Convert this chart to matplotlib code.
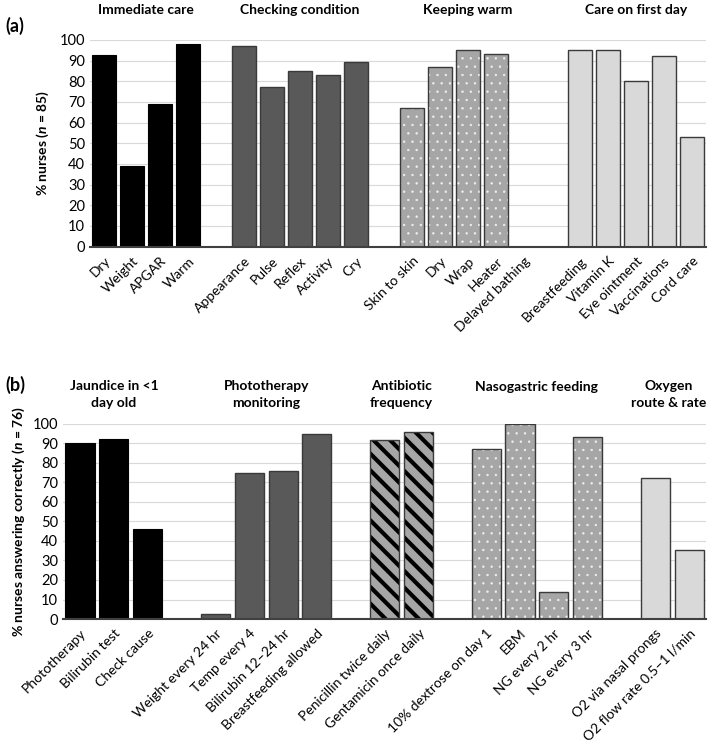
import matplotlib
matplotlib.use("Agg")
import matplotlib.pyplot as plt

plt.rcParams['font.family'] = ['Lato', 'DejaVu Sans']
plt.rcParams['mathtext.fontset'] = 'custom'
plt.rcParams['mathtext.it'] = 'Lato:italic:bold'
plt.rcParams['mathtext.rm'] = 'Lato:bold'
plt.rcParams['hatch.linewidth'] = 0.5

# ---- panel (a) data ----
a_titles = ['Immediate care', 'Checking condition', 'Keeping warm', 'Care on first day']
a_labels = [
    ['Dry', 'Weight', 'APGAR', 'Warm'],
    ['Appearance', 'Pulse', 'Reflex', 'Activity', 'Cry'],
    ['Skin to skin', 'Dry', 'Wrap', 'Heater', 'Delayed bathing'],
    ['Breastfeeding', 'Vitamin K', 'Eye ointment', 'Vaccinations', 'Cord care'],
]
a_values = [
    [92.5, 39, 69, 98],
    [97, 77, 85, 83, 89.5],
    [67, 87, 95, 93, 0],
    [95, 95, 80, 92, 53],
]
a_styles = ['black', 'dark', 'dots', 'light']

# ---- panel (b) data ----
b_titles = ['Jaundice in <1\nday old', 'Phototherapy\nmonitoring', 'Antibiotic\nfrequency',
            'Nasogastric feeding', 'Oxygen\nroute & rate']
b_labels = [
    ['Phototherapy', 'Bilirubin test', 'Check cause'],
    ['Weight every 24 hr', 'Temp every 4', 'Bilirubin 12\u201324 hr', 'Breastfeeding allowed'],
    ['Penicillin twice daily', 'Gentamicin once daily'],
    ['10% dextrose on day 1', 'EBM', 'NG every 2 hr', 'NG every 3 hr'],
    ['O2 via nasal prongs', 'O2 flow rate 0.5\u20131 l/min'],
]
b_values = [
    [90, 92, 46],
    [2.6, 75, 76, 95],
    [91.5, 96],
    [87, 100, 14, 93],
    [72, 35.5],
]
b_styles = ['black', 'dark', 'stripes', 'dots', 'light']

EDGE = '#3a3a3a'


def draw_bars(ax, x, h, style, w):
    if style == 'black':
        ax.bar(x, h, w, color='black', edgecolor='black', lw=0.8, zorder=3)
    elif style == 'dark':
        ax.bar(x, h, w, color='#595959', edgecolor=EDGE, lw=1.0, zorder=3)
    elif style == 'light':
        ax.bar(x, h, w, color='#d9d9d9', edgecolor=EDGE, lw=1.0, zorder=3)
    elif style == 'dots':
        ax.bar(x, h, w, color='#a6a6a6', edgecolor='#eeeeee', hatch='..', lw=0, zorder=3)
        ax.bar(x, h, w, color='none', edgecolor=EDGE, lw=1.0, zorder=4)
    elif style == 'stripes':
        with plt.rc_context({'hatch.linewidth': 3.0}):
            bars = ax.bar(x, h, w, color='#a6a6a6', edgecolor='black', hatch='\\\\',
                          lw=0, zorder=3)
        for b in bars:
            if hasattr(b, 'set_hatch_linewidth'):
                b.set_hatch_linewidth(3.0)
        ax.bar(x, h, w, color='none', edgecolor=EDGE, lw=1.0, zorder=4)


def panel(ax, titles, labels, values, styles, title_y, single_y):
    pos = 0
    ticks, ticklabels = [], []
    texts = []
    for t, labs, vals, st in zip(titles, labels, values, styles):
        xs = list(range(pos, pos + len(labs)))
        draw_bars(ax, xs, vals, st, 0.86)
        ticks += xs
        ticklabels += labs
        cx = (xs[0] + xs[-1]) / 2
        ty = title_y if '\n' in t else single_y
        texts.append(ax.text(cx, ty, t, transform=ax.get_xaxis_transform(), ha='center',
                             va='center', fontsize=10, fontweight='bold', linespacing=1.45))
        pos += len(labs) + 1
    ax.set_xlim(-0.5, pos - 1.5)
    ax.set_ylim(0, 100)
    ax.set_yticks(range(0, 101, 10))
    ax.set_xticks(ticks)
    ax.set_xticklabels(ticklabels, rotation=45, ha='right', rotation_mode='anchor')
    ax.tick_params(axis='both', length=0)
    ax.tick_params(axis='y', labelsize=10.5)
    ax.tick_params(axis='x', labelsize=10, pad=6)
    ax.grid(axis='y', color='#d9d9d9', lw=0.8, zorder=0)
    for s in ['top', 'right', 'left']:
        ax.spines[s].set_visible(False)
    ax.spines['bottom'].set_color('#404040')
    ax.spines['bottom'].set_linewidth(1.5)
    ax.spines['bottom'].set_zorder(5)
    return texts


fig = plt.figure(figsize=(7.09, 7.54), dpi=100)

ax1 = fig.add_axes([0.127, 0.673, 0.869, 0.274])
t1 = panel(ax1, a_titles, a_labels, a_values, a_styles, 1.145, 1.145)
ax1.set_ylabel('% nurses ($\\mathit{n}$ = 85)', fontsize=10, fontweight='bold', labelpad=6)
fig.text(0.008, 0.965, '(a)', fontsize=13, fontweight='bold', va='center')

ax2 = fig.add_axes([0.089, 0.179, 0.907, 0.259])
t2 = panel(ax2, b_titles, b_labels, b_values, b_styles, 1.15, 1.19)
ax2.set_ylabel('% nurses answering correctly ($\\mathit{n}$ = 76)', fontsize=10,
               fontweight='bold', labelpad=4)
fig.text(0.008, 0.49, '(b)', fontsize=13, fontweight='bold', va='center')

# keep the right-most group titles inside the figure
fig.canvas.draw()
r = fig.canvas.get_renderer()
for ax, ts in [(ax1, t1), (ax2, t2)]:
    bb = ts[-1].get_window_extent(r)
    over = bb.x1 - (fig.bbox.width - 3)
    if over > 0:
        x0 = ax.transData.inverted().transform((0, 0))[0]
        x1 = ax.transData.inverted().transform((over, 0))[0]
        ts[-1].set_x(ts[-1].get_position()[0] - (x1 - x0))

fig.savefig('out.png', dpi=100)
